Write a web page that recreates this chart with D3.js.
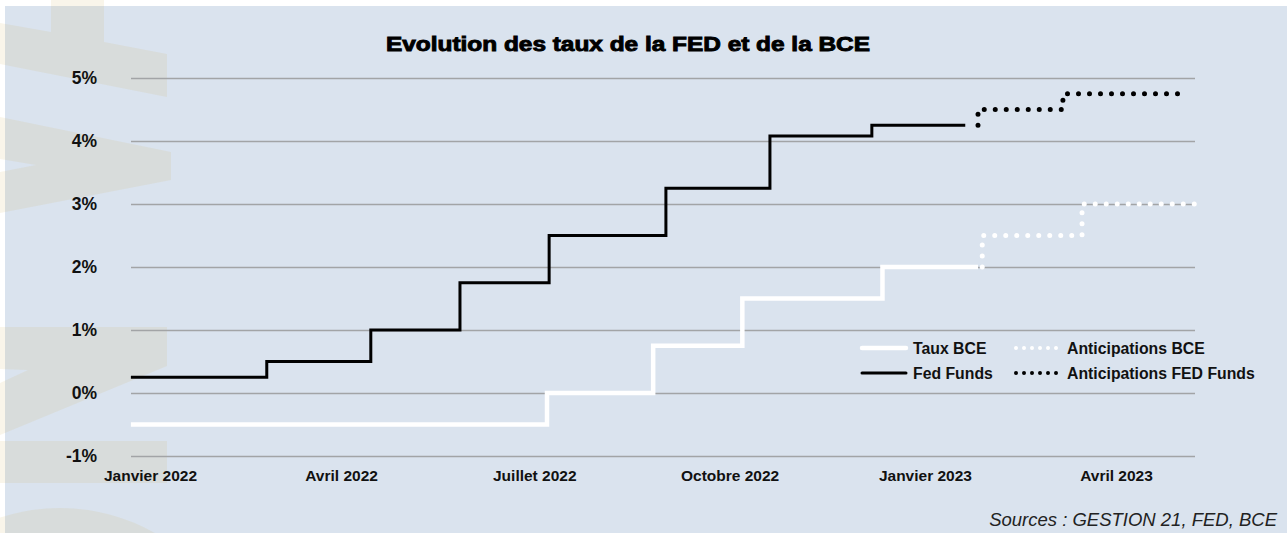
<!DOCTYPE html>
<html>
<head>
<meta charset="utf-8">
<script src="https://cdn.jsdelivr.net/npm/d3@7"></script>
<style>
  body { margin: 0; background: #ffffff; }
  svg { display: block; font-family: 'Liberation Sans', Arial, sans-serif; }
</style>
</head>
<body>
<div id="chart-container"></div>
<script>
  // Rate data (step dates and levels, in %)
  var fedDates = ['2021-12-23', '2022-02-25', '2022-04-15', '2022-05-27', '2022-07-08', '2022-09-01', '2022-10-20', '2022-12-07', '2023-01-20'];
  var fedValues = [0.25, 0.5, 1.0, 1.75, 2.5, 3.25, 4.08, 4.25, 4.25];

  var fedAnticipDates = ['2023-01-26', '2023-01-26', '2023-03-07', '2023-05-03'];
  var fedAnticipValues = [4.25, 4.5, 4.75, 4.75];

  var bceDates = ['2021-12-23', '2022-07-07', '2022-08-26', '2022-10-07', '2022-12-12', '2023-01-26'];
  var bceValues = [-0.5, 0, 0.75, 1.5, 2.0, 2.0];

  var bceAnticipDates = ['2023-01-28', '2023-01-28', '2023-03-16', '2023-05-08'];
  var bceAnticipValues = [2.0, 2.5, 3.0, 3.0];

  var yTicks = [-1, 0, 1, 2, 3, 4, 5];
  var monthTicks = ['2022-01-01', '2022-04-01', '2022-07-01', '2022-10-01', '2023-01-01', '2023-04-01'];
  var monthLabels = ['Janvier 2022', 'Avril 2022', 'Juillet 2022', 'Octobre 2022', 'Janvier 2023', 'Avril 2023'];

  var legendNames = ['Taux BCE', 'Fed Funds', 'Anticipations BCE', 'Anticipations FED Funds'];

  generateChart();

  function generateChart() {
      var width = 1287;
      var height = 533;
      var left = 131, right = 1195;
      var parse = d3.timeParse('%Y-%m-%d');

      var svg = d3.select('#chart-container')
          .append('svg')
          .attr('width', width)
          .attr('height', height);

      // Panel background
      svg.append('rect')
          .attr('x', 5).attr('y', 6)
          .attr('width', width - 5).attr('height', height - 6)
          .attr('fill', '#dae3ee');

      // Faint logo watermark on the left side
      var mark = svg.append('g')
          .attr('fill', 'rgb(205,180,90)')
          .attr('fill-opacity', 0.13);
      var shapes = [
          [[0, 23], [51, 32], [51, 0], [104, 0], [104, 42], [167, 54], [167, 97], [0, 64]],
          [[0, 117], [171, 152], [171, 180], [0, 213], [0, 172], [36, 165], [0, 159]],
          [[0, 327], [167, 327], [167, 366], [0, 435], [0, 383], [28, 370], [0, 369]],
          [[0, 441], [167, 441], [167, 483], [0, 483]]
      ];
      shapes.forEach(function(s) {
          mark.append('polygon').attr('points', s.join(' '));
      });
      mark.append('circle').attr('cx', 60).attr('cy', 700).attr('r', 192);

      // Scales
      var xScale = d3.scaleTime()
          .domain([parse('2022-01-01'), parse('2023-04-01')])
          .range([150, 1116]);

      var yScale = d3.scaleLinear()
          .domain([-1, 5])
          .range([456, 78]);

      // Title
      svg.append('text')
          .attr('x', 628)
          .attr('y', 51)
          .attr('text-anchor', 'middle')
          .attr('font-size', 20)
          .attr('font-weight', 'bold')
          .attr('stroke', '#000')
          .attr('stroke-width', 0.9)
          .attr('textLength', 484)
          .attr('lengthAdjust', 'spacingAndGlyphs')
          .text('Evolution des taux de la FED et de la BCE');

      // Y axis with gridlines
      var yAxis = svg.append('g')
          .attr('transform', 'translate(' + left + ',0)')
          .call(d3.axisLeft(yScale)
              .tickValues(yTicks)
              .tickSize(-(right - left))
              .tickPadding(34)
              .tickFormat(function(d) { return d + '%'; }));
      yAxis.select('.domain').remove();
      yAxis.selectAll('line').attr('stroke', '#a2a4a6').attr('stroke-width', 1.3);
      yAxis.selectAll('text')
          .attr('font-size', 17.5)
          .attr('font-weight', 'bold')
          .attr('fill', '#111')
          .attr('font-family', 'Liberation Sans, Arial, sans-serif');

      // X axis labels
      var xAxis = svg.append('g')
          .attr('transform', 'translate(0,' + yScale(-1) + ')')
          .call(d3.axisBottom(xScale)
              .tickValues(monthTicks.map(parse))
              .tickSize(0)
              .tickPadding(14)
              .tickFormat(function(d, i) { return monthLabels[i]; }));
      xAxis.select('.domain').remove();
      xAxis.selectAll('text')
          .attr('font-size', 15.5)
          .attr('font-weight', 'bold')
          .attr('fill', '#111')
          .attr('font-family', 'Liberation Sans, Arial, sans-serif');

      // Step line generator
      var line = d3.line()
          .x(function(d) { return xScale(d[0]); })
          .y(function(d) { return yScale(d[1]); })
          .curve(d3.curveStepAfter);

      function pairs(dates, values) {
          return dates.map(function(d, i) { return [parse(d), values[i]]; });
      }

      svg.append('path')
          .datum(pairs(bceDates, bceValues))
          .attr('fill', 'none')
          .attr('stroke', '#ffffff')
          .attr('stroke-width', 4.5)
          .attr('d', line);

      svg.append('path')
          .datum(pairs(fedDates, fedValues))
          .attr('fill', 'none')
          .attr('stroke', '#000000')
          .attr('stroke-width', 3)
          .attr('d', line);

      svg.append('path')
          .datum(pairs(bceAnticipDates, bceAnticipValues))
          .attr('fill', 'none')
          .attr('stroke', '#ffffff')
          .attr('stroke-width', 5)
          .attr('stroke-linecap', 'round')
          .attr('stroke-dasharray', '0 11')
          .attr('d', line);

      svg.append('path')
          .datum(pairs(fedAnticipDates, fedAnticipValues))
          .attr('fill', 'none')
          .attr('stroke', '#000000')
          .attr('stroke-width', 5)
          .attr('stroke-linecap', 'round')
          .attr('stroke-dasharray', '0 11')
          .attr('d', line);

      // Legend
      var legendStyles = [
          { x: 862, y: 348, color: '#ffffff', width: 4.5, dash: null },
          { x: 862, y: 373, color: '#000000', width: 3, dash: null },
          { x: 1016, y: 348, color: '#ffffff', width: 4, dash: '0 8' },
          { x: 1016, y: 373, color: '#000000', width: 4, dash: '0 8' }
      ];
      legendNames.forEach(function(name, i) {
          var s = legendStyles[i];
          var l = svg.append('line')
              .attr('x1', s.x).attr('x2', s.x + 44)
              .attr('y1', s.y).attr('y2', s.y)
              .attr('stroke', s.color)
              .attr('stroke-width', s.width)
              .attr('stroke-linecap', 'round');
          if (s.dash) l.attr('stroke-dasharray', s.dash);
          svg.append('text')
              .attr('x', s.x + 51)
              .attr('y', s.y + 5.5)
              .attr('font-size', 15.8)
              .attr('font-weight', 'bold')
              .attr('fill', '#111')
              .text(name);
      });

      // Sources
      svg.append('text')
          .attr('x', 1277)
          .attr('y', 526)
          .attr('text-anchor', 'end')
          .attr('font-size', 18.5)
          .attr('font-style', 'italic')
          .attr('fill', '#222')
          .text('Sources : GESTION 21, FED, BCE');
  }
</script>
</body>
</html>
